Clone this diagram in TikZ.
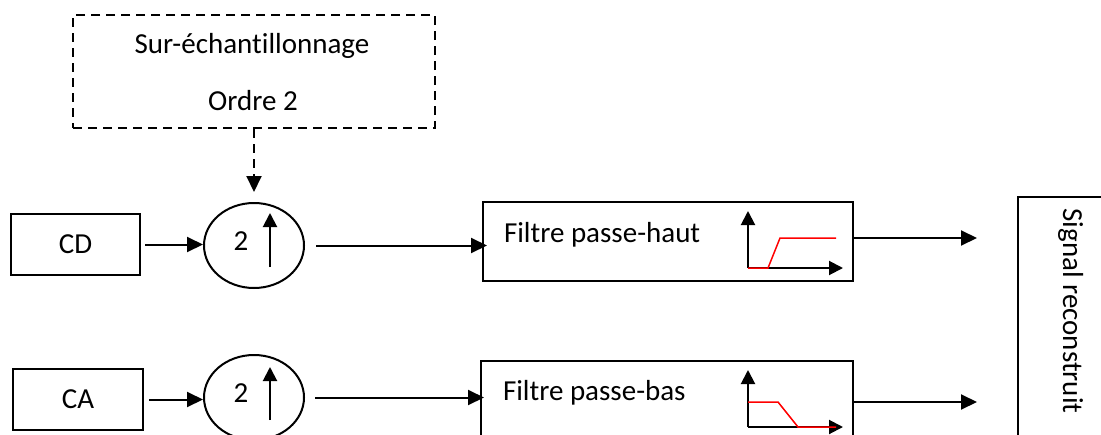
\documentclass[tikz,border=0pt]{standalone}
\usepackage{fontspec}
\setmainfont{Carlito}[Ligatures={NoCommon}]
\usetikzlibrary{arrows.meta,shapes.geometric}
\begin{document}
\begin{tikzpicture}[x=1pt,y=-1pt, line width=2pt,
  txt/.style={font=\fontsize{29}{35}\selectfont, inner sep=0pt},
  arr/.style={-{Triangle[length=16pt,width=15pt]}},
  smallarr/.style={-{Triangle[length=14pt,width=14pt]}},
  box/.style={draw, rectangle, inner sep=0pt},
  updown/.style={draw, ellipse, inner sep=0pt, minimum width=100pt, minimum height=85pt},
  resp/.style={red, line width=1.5pt},
]
\clip (0,0) rectangle (1101,434);
% control box
\node[box, dashed, dash pattern=on 9pt off 6pt, minimum width=362pt, minimum height=113pt] (ctl) at (254,71.5) {};
\node[txt, anchor=base] (t1) at (252,53) {Sur-échantillonnage};
\node[txt, anchor=base] (t2) at (253,110) {Ordre 2};
% input boxes
\node[box, txt, minimum width=129pt, minimum height=61pt] (cd) at (75.5,244.5) {CD};
\node[box, txt, minimum width=130pt, minimum height=61pt] (ca) at (78,399.5) {CA};
% upsamplers
\node[updown] (e1) at (254,245.5) {};
\node[updown] (e2) at (254,397.5) {};
\node[txt, anchor=base] (n1) at (241,250) {2};
\node[txt, anchor=base] (n2) at (241,402) {2};
\coordinate (u1a) at (270,267); \coordinate (u1b) at (270,213);
\coordinate (u2a) at (270,420); \coordinate (u2b) at (270,367);
\draw[smallarr] (u1a) -- (u1b);
\draw[smallarr] (u2a) -- (u2b);
% filters
\node[box, minimum width=370pt, minimum height=79pt] (hp) at (668,241.5) {};
\node[box, minimum width=372pt, minimum height=79pt] (lp) at (667,400.5) {};
\node[txt, anchor=base west] (hpt) at (503,242) {Filtre passe-haut};
\node[txt, anchor=base west] (lpt) at (502,400) {Filtre passe-bas};
% mini responses
\draw[smallarr] (748,268) -- (748,211);
\draw[smallarr] (748,268) -- (843,268);
\draw[resp] (748,268) -- (768,268) -- (780,238) -- (836,238);
\draw[smallarr] (748,427) -- (748,370);
\draw[smallarr] (748,427) -- (843,427);
\draw[resp] (748,402) -- (778,402) -- (798,427) -- (836,427);
% output box
\node[box, minimum width=122pt, minimum height=273pt] (sig) at (1079,333.5) {};
\node[txt, rotate=-90, anchor=base] (sigt) at (1063,311) {Signal reconstruit};
% connectors
\draw[arr, dashed, dash pattern=on 9pt off 6pt, shorten >=10pt] (ctl.south) -- (e1.north);
\draw[arr, shorten <=4pt] (cd.east) -- (cd.east -| e1.west);
\draw[arr, shorten <=5pt] (ca.east) -- (ca.east -| e2.west);
\draw[arr, shorten >=6pt] ([xshift=11pt]e1.east) -- ([xshift=11pt]e1.east -| hp.west);
\draw[arr, shorten >=6pt] ([xshift=10pt]e2.east) -- ([xshift=10pt]e2.east -| lp.west);
\coordinate (o1) at (977,238);
\coordinate (o2) at (977,402);
\draw[arr] (hp.east |- o1) -- (o1);
\draw[arr] (lp.east |- o2) -- (o2);
\end{tikzpicture}
\end{document}
